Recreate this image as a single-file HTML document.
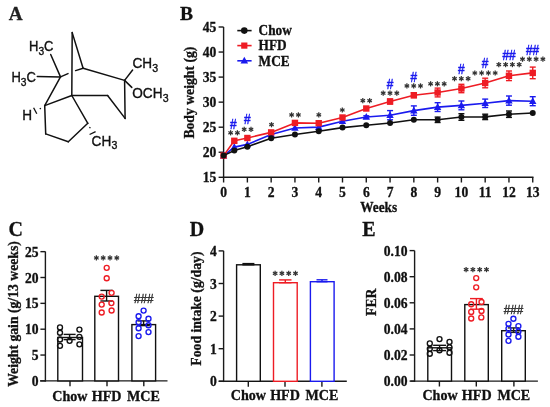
<!DOCTYPE html><html><head><meta charset="utf-8"><style>html,body{margin:0;padding:0;background:#fff;}svg{display:block;will-change:transform;}</style></head><body>
<svg width="550" height="407" viewBox="0 0 550 407">
<rect width="550" height="407" fill="#fff"/>
<text transform="translate(8.70,19.70) scale(1,1.0)" font-family='"Liberation Serif", serif' font-size="19.2" font-weight="bold" fill="#222" stroke="#222" stroke-width="0.3" text-anchor="start" >A</text>
<text transform="translate(180.10,19.70) scale(1,1.0)" font-family='"Liberation Serif", serif' font-size="19.5" font-weight="bold" fill="#111" stroke="#111" stroke-width="0.3" text-anchor="start" >B</text>
<text transform="translate(8.60,235.90) scale(1,1.0)" font-family='"Liberation Serif", serif' font-size="20.0" font-weight="bold" fill="#111" stroke="#111" stroke-width="0.3" text-anchor="start" >C</text>
<text transform="translate(189.80,235.80) scale(1,1.0)" font-family='"Liberation Serif", serif' font-size="20.0" font-weight="bold" fill="#111" stroke="#111" stroke-width="0.3" text-anchor="start" >D</text>
<text transform="translate(362.30,235.70) scale(1,1.0)" font-family='"Liberation Serif", serif' font-size="20.0" font-weight="bold" fill="#111" stroke="#111" stroke-width="0.3" text-anchor="start" >E</text>
<line x1="50.7" y1="54.5" x2="60.5" y2="76.9" stroke="#111" stroke-width="1.5" stroke-linecap="round"/>
<line x1="37.3" y1="76.6" x2="60.5" y2="76.9" stroke="#111" stroke-width="1.5" stroke-linecap="round"/>
<line x1="60.5" y1="76.9" x2="44.7" y2="105.6" stroke="#111" stroke-width="1.5" stroke-linecap="round"/>
<line x1="60.5" y1="76.9" x2="68.0" y2="73.6" stroke="#111" stroke-width="1.5" stroke-linecap="round"/>
<line x1="75.6" y1="70.6" x2="83.1" y2="68.3" stroke="#111" stroke-width="1.5" stroke-linecap="round"/>
<line x1="72.2" y1="32.6" x2="83.1" y2="68.3" stroke="#111" stroke-width="1.5" stroke-linecap="round"/>
<line x1="72.2" y1="32.6" x2="71.8" y2="95.5" stroke="#111" stroke-width="1.5" stroke-linecap="round"/>
<line x1="83.1" y1="68.3" x2="124.6" y2="80.4" stroke="#111" stroke-width="1.5" stroke-linecap="round"/>
<line x1="124.6" y1="80.4" x2="132.6" y2="70.0" stroke="#111" stroke-width="1.5" stroke-linecap="round"/>
<line x1="124.6" y1="80.4" x2="131.8" y2="87.4" stroke="#111" stroke-width="1.5" stroke-linecap="round"/>
<line x1="124.6" y1="80.4" x2="125.1" y2="118.4" stroke="#111" stroke-width="1.5" stroke-linecap="round"/>
<line x1="125.1" y1="118.4" x2="107.6" y2="95.5" stroke="#111" stroke-width="1.5" stroke-linecap="round"/>
<line x1="107.6" y1="95.5" x2="71.8" y2="95.5" stroke="#111" stroke-width="1.5" stroke-linecap="round"/>
<line x1="71.8" y1="95.5" x2="44.7" y2="105.6" stroke="#111" stroke-width="1.5" stroke-linecap="round"/>
<line x1="71.8" y1="95.5" x2="87.8" y2="123.3" stroke="#111" stroke-width="1.5" stroke-linecap="round"/>
<line x1="87.8" y1="123.3" x2="68.3" y2="141.7" stroke="#111" stroke-width="1.5" stroke-linecap="round"/>
<line x1="68.3" y1="141.7" x2="45.7" y2="133.9" stroke="#111" stroke-width="1.5" stroke-linecap="round"/>
<line x1="45.7" y1="133.9" x2="44.7" y2="105.6" stroke="#111" stroke-width="1.5" stroke-linecap="round"/>
<line x1="33.60" y1="107.80" x2="36.80" y2="113.80" stroke="#111" stroke-width="1.35" />
<line x1="40.00" y1="108.00" x2="40.70" y2="109.10" stroke="#111" stroke-width="1.35" />
<line x1="89.30" y1="127.30" x2="90.50" y2="127.80" stroke="#111" stroke-width="1.35" />
<line x1="89.60" y1="134.50" x2="95.60" y2="131.70" stroke="#111" stroke-width="1.35" />
<text transform="translate(29.0,51.0) scale(1,1.1)" font-family='"Liberation Sans", sans-serif' font-size="13.0" fill="#111" stroke="#111" stroke-width="0.35">H<tspan font-size="10.2" dx="0" dy="3.3">3</tspan><tspan dy="-3.3">C</tspan></text>
<text transform="translate(11.4,82.0) scale(1,1.1)" font-family='"Liberation Sans", sans-serif' font-size="13.0" fill="#111" stroke="#111" stroke-width="0.35">H<tspan font-size="10.2" dx="0" dy="3.3">3</tspan><tspan dy="-3.3">C</tspan></text>
<text transform="translate(22.3,119.7) scale(1,1.1)" font-family='"Liberation Sans", sans-serif' font-size="13.6" fill="#111" stroke="#111" stroke-width="0.35">H</text>
<text transform="translate(132.4,67.9) scale(1,1.1)" font-family='"Liberation Sans", sans-serif' font-size="13.6" fill="#111" stroke="#111" stroke-width="0.35">CH<tspan font-size="10.6" dx="0.3" dy="3.3">3</tspan></text>
<text transform="translate(132.3,98.4) scale(1,1.1)" font-family='"Liberation Sans", sans-serif' font-size="13.6" fill="#111" stroke="#111" stroke-width="0.35">OCH<tspan font-size="10.6" dx="0.3" dy="3.3">3</tspan></text>
<text transform="translate(91.6,145.6) scale(1,1.1)" font-family='"Liberation Sans", sans-serif' font-size="13.6" fill="#111" stroke="#111" stroke-width="0.35">CH<tspan font-size="10.6" dx="0.3" dy="3.3">3</tspan></text>
<line x1="223.60" y1="27.00" x2="223.60" y2="178.05" stroke="#1a1a1a" stroke-width="1.4" />
<line x1="222.85" y1="177.30" x2="533.49" y2="177.30" stroke="#1a1a1a" stroke-width="1.4" />
<line x1="218.60" y1="177.30" x2="223.60" y2="177.30" stroke="#1a1a1a" stroke-width="1.4" />
<text transform="translate(216.30,182.30) scale(1,1.03)" font-family='"Liberation Serif", serif' font-size="13.6" font-weight="bold" fill="#111" stroke="#111" stroke-width="0.3" text-anchor="end" >15</text>
<line x1="218.60" y1="152.25" x2="223.60" y2="152.25" stroke="#1a1a1a" stroke-width="1.4" />
<text transform="translate(216.30,157.25) scale(1,1.03)" font-family='"Liberation Serif", serif' font-size="13.6" font-weight="bold" fill="#111" stroke="#111" stroke-width="0.3" text-anchor="end" >20</text>
<line x1="218.60" y1="127.20" x2="223.60" y2="127.20" stroke="#1a1a1a" stroke-width="1.4" />
<text transform="translate(216.30,132.20) scale(1,1.03)" font-family='"Liberation Serif", serif' font-size="13.6" font-weight="bold" fill="#111" stroke="#111" stroke-width="0.3" text-anchor="end" >25</text>
<line x1="218.60" y1="102.15" x2="223.60" y2="102.15" stroke="#1a1a1a" stroke-width="1.4" />
<text transform="translate(216.30,107.15) scale(1,1.03)" font-family='"Liberation Serif", serif' font-size="13.6" font-weight="bold" fill="#111" stroke="#111" stroke-width="0.3" text-anchor="end" >30</text>
<line x1="218.60" y1="77.10" x2="223.60" y2="77.10" stroke="#1a1a1a" stroke-width="1.4" />
<text transform="translate(216.30,82.10) scale(1,1.03)" font-family='"Liberation Serif", serif' font-size="13.6" font-weight="bold" fill="#111" stroke="#111" stroke-width="0.3" text-anchor="end" >35</text>
<line x1="218.60" y1="52.05" x2="223.60" y2="52.05" stroke="#1a1a1a" stroke-width="1.4" />
<text transform="translate(216.30,57.05) scale(1,1.03)" font-family='"Liberation Serif", serif' font-size="13.6" font-weight="bold" fill="#111" stroke="#111" stroke-width="0.3" text-anchor="end" >40</text>
<line x1="218.60" y1="27.00" x2="223.60" y2="27.00" stroke="#1a1a1a" stroke-width="1.4" />
<text transform="translate(216.30,32.00) scale(1,1.03)" font-family='"Liberation Serif", serif' font-size="13.6" font-weight="bold" fill="#111" stroke="#111" stroke-width="0.3" text-anchor="end" >45</text>
<line x1="223.60" y1="177.30" x2="223.60" y2="182.50" stroke="#1a1a1a" stroke-width="1.4" />
<text transform="translate(223.60,197.20) scale(1,1.03)" font-family='"Liberation Serif", serif' font-size="13.6" font-weight="bold" fill="#111" stroke="#111" stroke-width="0.3" text-anchor="middle" >0</text>
<line x1="247.38" y1="177.30" x2="247.38" y2="182.50" stroke="#1a1a1a" stroke-width="1.4" />
<text transform="translate(247.38,197.20) scale(1,1.03)" font-family='"Liberation Serif", serif' font-size="13.6" font-weight="bold" fill="#111" stroke="#111" stroke-width="0.3" text-anchor="middle" >1</text>
<line x1="271.16" y1="177.30" x2="271.16" y2="182.50" stroke="#1a1a1a" stroke-width="1.4" />
<text transform="translate(271.16,197.20) scale(1,1.03)" font-family='"Liberation Serif", serif' font-size="13.6" font-weight="bold" fill="#111" stroke="#111" stroke-width="0.3" text-anchor="middle" >2</text>
<line x1="294.94" y1="177.30" x2="294.94" y2="182.50" stroke="#1a1a1a" stroke-width="1.4" />
<text transform="translate(294.94,197.20) scale(1,1.03)" font-family='"Liberation Serif", serif' font-size="13.6" font-weight="bold" fill="#111" stroke="#111" stroke-width="0.3" text-anchor="middle" >3</text>
<line x1="318.72" y1="177.30" x2="318.72" y2="182.50" stroke="#1a1a1a" stroke-width="1.4" />
<text transform="translate(318.72,197.20) scale(1,1.03)" font-family='"Liberation Serif", serif' font-size="13.6" font-weight="bold" fill="#111" stroke="#111" stroke-width="0.3" text-anchor="middle" >4</text>
<line x1="342.50" y1="177.30" x2="342.50" y2="182.50" stroke="#1a1a1a" stroke-width="1.4" />
<text transform="translate(342.50,197.20) scale(1,1.03)" font-family='"Liberation Serif", serif' font-size="13.6" font-weight="bold" fill="#111" stroke="#111" stroke-width="0.3" text-anchor="middle" >5</text>
<line x1="366.28" y1="177.30" x2="366.28" y2="182.50" stroke="#1a1a1a" stroke-width="1.4" />
<text transform="translate(366.28,197.20) scale(1,1.03)" font-family='"Liberation Serif", serif' font-size="13.6" font-weight="bold" fill="#111" stroke="#111" stroke-width="0.3" text-anchor="middle" >6</text>
<line x1="390.06" y1="177.30" x2="390.06" y2="182.50" stroke="#1a1a1a" stroke-width="1.4" />
<text transform="translate(390.06,197.20) scale(1,1.03)" font-family='"Liberation Serif", serif' font-size="13.6" font-weight="bold" fill="#111" stroke="#111" stroke-width="0.3" text-anchor="middle" >7</text>
<line x1="413.84" y1="177.30" x2="413.84" y2="182.50" stroke="#1a1a1a" stroke-width="1.4" />
<text transform="translate(413.84,197.20) scale(1,1.03)" font-family='"Liberation Serif", serif' font-size="13.6" font-weight="bold" fill="#111" stroke="#111" stroke-width="0.3" text-anchor="middle" >8</text>
<line x1="437.62" y1="177.30" x2="437.62" y2="182.50" stroke="#1a1a1a" stroke-width="1.4" />
<text transform="translate(437.62,197.20) scale(1,1.03)" font-family='"Liberation Serif", serif' font-size="13.6" font-weight="bold" fill="#111" stroke="#111" stroke-width="0.3" text-anchor="middle" >9</text>
<line x1="461.40" y1="177.30" x2="461.40" y2="182.50" stroke="#1a1a1a" stroke-width="1.4" />
<text transform="translate(461.40,197.20) scale(1,1.03)" font-family='"Liberation Serif", serif' font-size="13.6" font-weight="bold" fill="#111" stroke="#111" stroke-width="0.3" text-anchor="middle" >10</text>
<line x1="485.18" y1="177.30" x2="485.18" y2="182.50" stroke="#1a1a1a" stroke-width="1.4" />
<text transform="translate(485.18,197.20) scale(1,1.03)" font-family='"Liberation Serif", serif' font-size="13.6" font-weight="bold" fill="#111" stroke="#111" stroke-width="0.3" text-anchor="middle" >11</text>
<line x1="508.96" y1="177.30" x2="508.96" y2="182.50" stroke="#1a1a1a" stroke-width="1.4" />
<text transform="translate(508.96,197.20) scale(1,1.03)" font-family='"Liberation Serif", serif' font-size="13.6" font-weight="bold" fill="#111" stroke="#111" stroke-width="0.3" text-anchor="middle" >12</text>
<line x1="532.74" y1="177.30" x2="532.74" y2="182.50" stroke="#1a1a1a" stroke-width="1.4" />
<text transform="translate(532.74,197.20) scale(1,1.03)" font-family='"Liberation Serif", serif' font-size="13.6" font-weight="bold" fill="#111" stroke="#111" stroke-width="0.3" text-anchor="middle" >13</text>
<text transform="translate(378.70,212.20) scale(1,1.07)" font-family='"Liberation Serif", serif' font-size="13.3" font-weight="bold" fill="#111" stroke="#111" stroke-width="0.3" text-anchor="middle" >Weeks</text>
<text transform="translate(194.00,92.60) rotate(-90) scale(1,1.02)" x="0" y="0" font-family='"Liberation Serif", serif' font-size="13.7" font-weight="bold" fill="#111" stroke="#111" stroke-width="0.3" text-anchor="middle">Body weight (g)</text>
<polyline points="223.60,155.60 234.30,147.10 247.38,144.40 271.16,134.40 294.94,128.00 318.72,127.10 342.50,121.20 366.28,117.00 390.06,115.20 413.84,110.60 437.62,107.10 461.40,105.40 485.18,103.30 508.96,100.60 532.74,101.20" fill="none" stroke="#1a1aee" stroke-width="1.6" stroke-linejoin="round"/>
<line x1="366.28" y1="115.80" x2="366.28" y2="118.20" stroke="#1a1aee" stroke-width="1.4" />
<line x1="363.28" y1="115.80" x2="369.28" y2="115.80" stroke="#1a1aee" stroke-width="1.4" />
<line x1="363.28" y1="118.20" x2="369.28" y2="118.20" stroke="#1a1aee" stroke-width="1.4" />
<line x1="390.06" y1="110.60" x2="390.06" y2="119.80" stroke="#1a1aee" stroke-width="1.4" />
<line x1="387.06" y1="110.60" x2="393.06" y2="110.60" stroke="#1a1aee" stroke-width="1.4" />
<line x1="387.06" y1="119.80" x2="393.06" y2="119.80" stroke="#1a1aee" stroke-width="1.4" />
<line x1="413.84" y1="105.90" x2="413.84" y2="115.30" stroke="#1a1aee" stroke-width="1.4" />
<line x1="410.84" y1="105.90" x2="416.84" y2="105.90" stroke="#1a1aee" stroke-width="1.4" />
<line x1="410.84" y1="115.30" x2="416.84" y2="115.30" stroke="#1a1aee" stroke-width="1.4" />
<line x1="437.62" y1="102.70" x2="437.62" y2="111.50" stroke="#1a1aee" stroke-width="1.4" />
<line x1="434.62" y1="102.70" x2="440.62" y2="102.70" stroke="#1a1aee" stroke-width="1.4" />
<line x1="434.62" y1="111.50" x2="440.62" y2="111.50" stroke="#1a1aee" stroke-width="1.4" />
<line x1="461.40" y1="101.00" x2="461.40" y2="109.80" stroke="#1a1aee" stroke-width="1.4" />
<line x1="458.40" y1="101.00" x2="464.40" y2="101.00" stroke="#1a1aee" stroke-width="1.4" />
<line x1="458.40" y1="109.80" x2="464.40" y2="109.80" stroke="#1a1aee" stroke-width="1.4" />
<line x1="485.18" y1="99.10" x2="485.18" y2="107.50" stroke="#1a1aee" stroke-width="1.4" />
<line x1="482.18" y1="99.10" x2="488.18" y2="99.10" stroke="#1a1aee" stroke-width="1.4" />
<line x1="482.18" y1="107.50" x2="488.18" y2="107.50" stroke="#1a1aee" stroke-width="1.4" />
<line x1="508.96" y1="96.00" x2="508.96" y2="105.20" stroke="#1a1aee" stroke-width="1.4" />
<line x1="505.96" y1="96.00" x2="511.96" y2="96.00" stroke="#1a1aee" stroke-width="1.4" />
<line x1="505.96" y1="105.20" x2="511.96" y2="105.20" stroke="#1a1aee" stroke-width="1.4" />
<line x1="532.74" y1="96.70" x2="532.74" y2="105.70" stroke="#1a1aee" stroke-width="1.4" />
<line x1="529.74" y1="96.70" x2="535.74" y2="96.70" stroke="#1a1aee" stroke-width="1.4" />
<line x1="529.74" y1="105.70" x2="535.74" y2="105.70" stroke="#1a1aee" stroke-width="1.4" />
<polygon points="223.60,151.60 227.30,158.40 219.90,158.40" fill="#1a1aee"/>
<polygon points="234.30,143.10 238.00,149.90 230.60,149.90" fill="#1a1aee"/>
<polygon points="247.38,140.40 251.08,147.20 243.68,147.20" fill="#1a1aee"/>
<polygon points="271.16,130.40 274.86,137.20 267.46,137.20" fill="#1a1aee"/>
<polygon points="294.94,124.00 298.64,130.80 291.24,130.80" fill="#1a1aee"/>
<polygon points="318.72,123.10 322.42,129.90 315.02,129.90" fill="#1a1aee"/>
<polygon points="342.50,117.20 346.20,124.00 338.80,124.00" fill="#1a1aee"/>
<polygon points="366.28,113.00 369.98,119.80 362.58,119.80" fill="#1a1aee"/>
<polygon points="390.06,111.20 393.76,118.00 386.36,118.00" fill="#1a1aee"/>
<polygon points="413.84,106.60 417.54,113.40 410.14,113.40" fill="#1a1aee"/>
<polygon points="437.62,103.10 441.32,109.90 433.92,109.90" fill="#1a1aee"/>
<polygon points="461.40,101.40 465.10,108.20 457.70,108.20" fill="#1a1aee"/>
<polygon points="485.18,99.30 488.88,106.10 481.48,106.10" fill="#1a1aee"/>
<polygon points="508.96,96.60 512.66,103.40 505.26,103.40" fill="#1a1aee"/>
<polygon points="532.74,97.20 536.44,104.00 529.04,104.00" fill="#1a1aee"/>
<polyline points="223.60,155.60 234.30,140.80 247.38,138.00 271.16,132.40 294.94,122.90 318.72,123.20 342.50,117.50 366.28,108.50 390.06,101.50 413.84,95.20 437.62,92.50 461.40,88.50 485.18,83.00 508.96,75.80 532.74,72.90" fill="none" stroke="#ee1c24" stroke-width="1.6" stroke-linejoin="round"/>
<line x1="390.06" y1="99.00" x2="390.06" y2="104.00" stroke="#ee1c24" stroke-width="1.4" />
<line x1="387.06" y1="99.00" x2="393.06" y2="99.00" stroke="#ee1c24" stroke-width="1.4" />
<line x1="387.06" y1="104.00" x2="393.06" y2="104.00" stroke="#ee1c24" stroke-width="1.4" />
<line x1="413.84" y1="92.70" x2="413.84" y2="97.70" stroke="#ee1c24" stroke-width="1.4" />
<line x1="410.84" y1="92.70" x2="416.84" y2="92.70" stroke="#ee1c24" stroke-width="1.4" />
<line x1="410.84" y1="97.70" x2="416.84" y2="97.70" stroke="#ee1c24" stroke-width="1.4" />
<line x1="437.62" y1="88.10" x2="437.62" y2="96.90" stroke="#ee1c24" stroke-width="1.4" />
<line x1="434.62" y1="88.10" x2="440.62" y2="88.10" stroke="#ee1c24" stroke-width="1.4" />
<line x1="434.62" y1="96.90" x2="440.62" y2="96.90" stroke="#ee1c24" stroke-width="1.4" />
<line x1="461.40" y1="84.30" x2="461.40" y2="92.70" stroke="#ee1c24" stroke-width="1.4" />
<line x1="458.40" y1="84.30" x2="464.40" y2="84.30" stroke="#ee1c24" stroke-width="1.4" />
<line x1="458.40" y1="92.70" x2="464.40" y2="92.70" stroke="#ee1c24" stroke-width="1.4" />
<line x1="485.18" y1="78.20" x2="485.18" y2="87.80" stroke="#ee1c24" stroke-width="1.4" />
<line x1="482.18" y1="78.20" x2="488.18" y2="78.20" stroke="#ee1c24" stroke-width="1.4" />
<line x1="482.18" y1="87.80" x2="488.18" y2="87.80" stroke="#ee1c24" stroke-width="1.4" />
<line x1="508.96" y1="71.00" x2="508.96" y2="80.60" stroke="#ee1c24" stroke-width="1.4" />
<line x1="505.96" y1="71.00" x2="511.96" y2="71.00" stroke="#ee1c24" stroke-width="1.4" />
<line x1="505.96" y1="80.60" x2="511.96" y2="80.60" stroke="#ee1c24" stroke-width="1.4" />
<line x1="532.74" y1="67.10" x2="532.74" y2="78.70" stroke="#ee1c24" stroke-width="1.4" />
<line x1="529.74" y1="67.10" x2="535.74" y2="67.10" stroke="#ee1c24" stroke-width="1.4" />
<line x1="529.74" y1="78.70" x2="535.74" y2="78.70" stroke="#ee1c24" stroke-width="1.4" />
<rect x="220.40" y="152.40" width="6.4" height="6.4" fill="#ee1c24"/>
<rect x="231.10" y="137.60" width="6.4" height="6.4" fill="#ee1c24"/>
<rect x="244.18" y="134.80" width="6.4" height="6.4" fill="#ee1c24"/>
<rect x="267.96" y="129.20" width="6.4" height="6.4" fill="#ee1c24"/>
<rect x="291.74" y="119.70" width="6.4" height="6.4" fill="#ee1c24"/>
<rect x="315.52" y="120.00" width="6.4" height="6.4" fill="#ee1c24"/>
<rect x="339.30" y="114.30" width="6.4" height="6.4" fill="#ee1c24"/>
<rect x="363.08" y="105.30" width="6.4" height="6.4" fill="#ee1c24"/>
<rect x="386.86" y="98.30" width="6.4" height="6.4" fill="#ee1c24"/>
<rect x="410.64" y="92.00" width="6.4" height="6.4" fill="#ee1c24"/>
<rect x="434.42" y="89.30" width="6.4" height="6.4" fill="#ee1c24"/>
<rect x="458.20" y="85.30" width="6.4" height="6.4" fill="#ee1c24"/>
<rect x="481.98" y="79.80" width="6.4" height="6.4" fill="#ee1c24"/>
<rect x="505.76" y="72.60" width="6.4" height="6.4" fill="#ee1c24"/>
<rect x="529.54" y="69.70" width="6.4" height="6.4" fill="#ee1c24"/>
<polyline points="223.60,155.60 234.30,150.50 247.38,146.80 271.16,138.20 294.94,134.50 318.72,131.20 342.50,127.60 366.28,125.20 390.06,123.00 413.84,119.70 437.62,119.80 461.40,117.00 485.18,116.90 508.96,114.20 532.74,113.00" fill="none" stroke="#111" stroke-width="1.6" stroke-linejoin="round"/>
<line x1="437.62" y1="117.10" x2="437.62" y2="122.50" stroke="#111" stroke-width="1.4" />
<line x1="434.62" y1="117.10" x2="440.62" y2="117.10" stroke="#111" stroke-width="1.4" />
<line x1="434.62" y1="122.50" x2="440.62" y2="122.50" stroke="#111" stroke-width="1.4" />
<line x1="461.40" y1="113.70" x2="461.40" y2="120.30" stroke="#111" stroke-width="1.4" />
<line x1="458.40" y1="113.70" x2="464.40" y2="113.70" stroke="#111" stroke-width="1.4" />
<line x1="458.40" y1="120.30" x2="464.40" y2="120.30" stroke="#111" stroke-width="1.4" />
<line x1="485.18" y1="114.20" x2="485.18" y2="119.60" stroke="#111" stroke-width="1.4" />
<line x1="482.18" y1="114.20" x2="488.18" y2="114.20" stroke="#111" stroke-width="1.4" />
<line x1="482.18" y1="119.60" x2="488.18" y2="119.60" stroke="#111" stroke-width="1.4" />
<line x1="508.96" y1="111.00" x2="508.96" y2="117.40" stroke="#111" stroke-width="1.4" />
<line x1="505.96" y1="111.00" x2="511.96" y2="111.00" stroke="#111" stroke-width="1.4" />
<line x1="505.96" y1="117.40" x2="511.96" y2="117.40" stroke="#111" stroke-width="1.4" />
<circle cx="223.60" cy="155.60" r="3.0" fill="#111"/>
<circle cx="234.30" cy="150.50" r="3.0" fill="#111"/>
<circle cx="247.38" cy="146.80" r="3.0" fill="#111"/>
<circle cx="271.16" cy="138.20" r="3.0" fill="#111"/>
<circle cx="294.94" cy="134.50" r="3.0" fill="#111"/>
<circle cx="318.72" cy="131.20" r="3.0" fill="#111"/>
<circle cx="342.50" cy="127.60" r="3.0" fill="#111"/>
<circle cx="366.28" cy="125.20" r="3.0" fill="#111"/>
<circle cx="390.06" cy="123.00" r="3.0" fill="#111"/>
<circle cx="413.84" cy="119.70" r="3.0" fill="#111"/>
<circle cx="437.62" cy="119.80" r="3.0" fill="#111"/>
<circle cx="461.40" cy="117.00" r="3.0" fill="#111"/>
<circle cx="485.18" cy="116.90" r="3.0" fill="#111"/>
<circle cx="508.96" cy="114.20" r="3.0" fill="#111"/>
<circle cx="532.74" cy="113.00" r="3.0" fill="#111"/>
<line x1="237.30" y1="30.60" x2="251.60" y2="30.60" stroke="#111" stroke-width="1.6" />
<circle cx="244.3" cy="30.6" r="3.3" fill="#111"/>
<text transform="translate(258.60,34.80) scale(1,1.07)" font-family='"Liberation Serif", serif' font-size="13.3" font-weight="bold" fill="#111" stroke="#111" stroke-width="0.3" text-anchor="start" >Chow</text>
<line x1="237.30" y1="45.60" x2="251.60" y2="45.60" stroke="#ee1c24" stroke-width="1.6" />
<rect x="241.20000000000002" y="42.5" width="6.2" height="6.2" fill="#ee1c24"/>
<text transform="translate(258.60,50.40) scale(1,1.07)" font-family='"Liberation Serif", serif' font-size="13.3" font-weight="bold" fill="#111" stroke="#111" stroke-width="0.3" text-anchor="start" >HFD</text>
<line x1="237.30" y1="60.80" x2="251.60" y2="60.80" stroke="#1a1aee" stroke-width="1.6" />
<polygon points="244.3,56.8 248.10000000000002,63.599999999999994 240.5,63.599999999999994" fill="#1a1aee"/>
<text transform="translate(258.60,65.80) scale(1,1.07)" font-family='"Liberation Serif", serif' font-size="13.3" font-weight="bold" fill="#111" stroke="#111" stroke-width="0.3" text-anchor="start" >MCE</text>
<line x1="230.60" y1="130.20" x2="230.60" y2="135.40" stroke="#333333" stroke-width="1.25" />
<line x1="228.35" y1="131.50" x2="232.85" y2="134.10" stroke="#333333" stroke-width="1.25" />
<line x1="232.85" y1="131.50" x2="228.35" y2="134.10" stroke="#333333" stroke-width="1.25" />
<line x1="237.40" y1="130.20" x2="237.40" y2="135.40" stroke="#333333" stroke-width="1.25" />
<line x1="235.15" y1="131.50" x2="239.65" y2="134.10" stroke="#333333" stroke-width="1.25" />
<line x1="239.65" y1="131.50" x2="235.15" y2="134.10" stroke="#333333" stroke-width="1.25" />
<line x1="244.20" y1="126.70" x2="244.20" y2="131.90" stroke="#333333" stroke-width="1.25" />
<line x1="241.95" y1="128.00" x2="246.45" y2="130.60" stroke="#333333" stroke-width="1.25" />
<line x1="246.45" y1="128.00" x2="241.95" y2="130.60" stroke="#333333" stroke-width="1.25" />
<line x1="251.00" y1="126.70" x2="251.00" y2="131.90" stroke="#333333" stroke-width="1.25" />
<line x1="248.75" y1="128.00" x2="253.25" y2="130.60" stroke="#333333" stroke-width="1.25" />
<line x1="253.25" y1="128.00" x2="248.75" y2="130.60" stroke="#333333" stroke-width="1.25" />
<line x1="271.50" y1="122.10" x2="271.50" y2="127.30" stroke="#333333" stroke-width="1.25" />
<line x1="269.25" y1="123.40" x2="273.75" y2="126.00" stroke="#333333" stroke-width="1.25" />
<line x1="273.75" y1="123.40" x2="269.25" y2="126.00" stroke="#333333" stroke-width="1.25" />
<line x1="291.60" y1="112.30" x2="291.60" y2="117.50" stroke="#333333" stroke-width="1.25" />
<line x1="289.35" y1="113.60" x2="293.85" y2="116.20" stroke="#333333" stroke-width="1.25" />
<line x1="293.85" y1="113.60" x2="289.35" y2="116.20" stroke="#333333" stroke-width="1.25" />
<line x1="298.40" y1="112.30" x2="298.40" y2="117.50" stroke="#333333" stroke-width="1.25" />
<line x1="296.15" y1="113.60" x2="300.65" y2="116.20" stroke="#333333" stroke-width="1.25" />
<line x1="300.65" y1="113.60" x2="296.15" y2="116.20" stroke="#333333" stroke-width="1.25" />
<line x1="318.80" y1="112.20" x2="318.80" y2="117.40" stroke="#333333" stroke-width="1.25" />
<line x1="316.55" y1="113.50" x2="321.05" y2="116.10" stroke="#333333" stroke-width="1.25" />
<line x1="321.05" y1="113.50" x2="316.55" y2="116.10" stroke="#333333" stroke-width="1.25" />
<line x1="342.30" y1="107.40" x2="342.30" y2="112.60" stroke="#333333" stroke-width="1.25" />
<line x1="340.05" y1="108.70" x2="344.55" y2="111.30" stroke="#333333" stroke-width="1.25" />
<line x1="344.55" y1="108.70" x2="340.05" y2="111.30" stroke="#333333" stroke-width="1.25" />
<line x1="362.80" y1="98.10" x2="362.80" y2="103.30" stroke="#333333" stroke-width="1.25" />
<line x1="360.55" y1="99.40" x2="365.05" y2="102.00" stroke="#333333" stroke-width="1.25" />
<line x1="365.05" y1="99.40" x2="360.55" y2="102.00" stroke="#333333" stroke-width="1.25" />
<line x1="369.60" y1="98.10" x2="369.60" y2="103.30" stroke="#333333" stroke-width="1.25" />
<line x1="367.35" y1="99.40" x2="371.85" y2="102.00" stroke="#333333" stroke-width="1.25" />
<line x1="371.85" y1="99.40" x2="367.35" y2="102.00" stroke="#333333" stroke-width="1.25" />
<line x1="383.20" y1="90.60" x2="383.20" y2="95.80" stroke="#333333" stroke-width="1.25" />
<line x1="380.95" y1="91.90" x2="385.45" y2="94.50" stroke="#333333" stroke-width="1.25" />
<line x1="385.45" y1="91.90" x2="380.95" y2="94.50" stroke="#333333" stroke-width="1.25" />
<line x1="390.00" y1="90.60" x2="390.00" y2="95.80" stroke="#333333" stroke-width="1.25" />
<line x1="387.75" y1="91.90" x2="392.25" y2="94.50" stroke="#333333" stroke-width="1.25" />
<line x1="392.25" y1="91.90" x2="387.75" y2="94.50" stroke="#333333" stroke-width="1.25" />
<line x1="396.80" y1="90.60" x2="396.80" y2="95.80" stroke="#333333" stroke-width="1.25" />
<line x1="394.55" y1="91.90" x2="399.05" y2="94.50" stroke="#333333" stroke-width="1.25" />
<line x1="399.05" y1="91.90" x2="394.55" y2="94.50" stroke="#333333" stroke-width="1.25" />
<line x1="406.90" y1="83.30" x2="406.90" y2="88.50" stroke="#333333" stroke-width="1.25" />
<line x1="404.65" y1="84.60" x2="409.15" y2="87.20" stroke="#333333" stroke-width="1.25" />
<line x1="409.15" y1="84.60" x2="404.65" y2="87.20" stroke="#333333" stroke-width="1.25" />
<line x1="413.70" y1="83.30" x2="413.70" y2="88.50" stroke="#333333" stroke-width="1.25" />
<line x1="411.45" y1="84.60" x2="415.95" y2="87.20" stroke="#333333" stroke-width="1.25" />
<line x1="415.95" y1="84.60" x2="411.45" y2="87.20" stroke="#333333" stroke-width="1.25" />
<line x1="420.50" y1="83.30" x2="420.50" y2="88.50" stroke="#333333" stroke-width="1.25" />
<line x1="418.25" y1="84.60" x2="422.75" y2="87.20" stroke="#333333" stroke-width="1.25" />
<line x1="422.75" y1="84.60" x2="418.25" y2="87.20" stroke="#333333" stroke-width="1.25" />
<line x1="430.60" y1="81.20" x2="430.60" y2="86.40" stroke="#333333" stroke-width="1.25" />
<line x1="428.35" y1="82.50" x2="432.85" y2="85.10" stroke="#333333" stroke-width="1.25" />
<line x1="432.85" y1="82.50" x2="428.35" y2="85.10" stroke="#333333" stroke-width="1.25" />
<line x1="437.40" y1="81.20" x2="437.40" y2="86.40" stroke="#333333" stroke-width="1.25" />
<line x1="435.15" y1="82.50" x2="439.65" y2="85.10" stroke="#333333" stroke-width="1.25" />
<line x1="439.65" y1="82.50" x2="435.15" y2="85.10" stroke="#333333" stroke-width="1.25" />
<line x1="444.20" y1="81.20" x2="444.20" y2="86.40" stroke="#333333" stroke-width="1.25" />
<line x1="441.95" y1="82.50" x2="446.45" y2="85.10" stroke="#333333" stroke-width="1.25" />
<line x1="446.45" y1="82.50" x2="441.95" y2="85.10" stroke="#333333" stroke-width="1.25" />
<line x1="454.50" y1="76.10" x2="454.50" y2="81.30" stroke="#333333" stroke-width="1.25" />
<line x1="452.25" y1="77.40" x2="456.75" y2="80.00" stroke="#333333" stroke-width="1.25" />
<line x1="456.75" y1="77.40" x2="452.25" y2="80.00" stroke="#333333" stroke-width="1.25" />
<line x1="461.30" y1="76.10" x2="461.30" y2="81.30" stroke="#333333" stroke-width="1.25" />
<line x1="459.05" y1="77.40" x2="463.55" y2="80.00" stroke="#333333" stroke-width="1.25" />
<line x1="463.55" y1="77.40" x2="459.05" y2="80.00" stroke="#333333" stroke-width="1.25" />
<line x1="468.10" y1="76.10" x2="468.10" y2="81.30" stroke="#333333" stroke-width="1.25" />
<line x1="465.85" y1="77.40" x2="470.35" y2="80.00" stroke="#333333" stroke-width="1.25" />
<line x1="470.35" y1="77.40" x2="465.85" y2="80.00" stroke="#333333" stroke-width="1.25" />
<line x1="474.80" y1="70.40" x2="474.80" y2="75.60" stroke="#333333" stroke-width="1.25" />
<line x1="472.55" y1="71.70" x2="477.05" y2="74.30" stroke="#333333" stroke-width="1.25" />
<line x1="477.05" y1="71.70" x2="472.55" y2="74.30" stroke="#333333" stroke-width="1.25" />
<line x1="481.60" y1="70.40" x2="481.60" y2="75.60" stroke="#333333" stroke-width="1.25" />
<line x1="479.35" y1="71.70" x2="483.85" y2="74.30" stroke="#333333" stroke-width="1.25" />
<line x1="483.85" y1="71.70" x2="479.35" y2="74.30" stroke="#333333" stroke-width="1.25" />
<line x1="488.40" y1="70.40" x2="488.40" y2="75.60" stroke="#333333" stroke-width="1.25" />
<line x1="486.15" y1="71.70" x2="490.65" y2="74.30" stroke="#333333" stroke-width="1.25" />
<line x1="490.65" y1="71.70" x2="486.15" y2="74.30" stroke="#333333" stroke-width="1.25" />
<line x1="495.20" y1="70.40" x2="495.20" y2="75.60" stroke="#333333" stroke-width="1.25" />
<line x1="492.95" y1="71.70" x2="497.45" y2="74.30" stroke="#333333" stroke-width="1.25" />
<line x1="497.45" y1="71.70" x2="492.95" y2="74.30" stroke="#333333" stroke-width="1.25" />
<line x1="498.80" y1="62.00" x2="498.80" y2="67.20" stroke="#333333" stroke-width="1.25" />
<line x1="496.55" y1="63.30" x2="501.05" y2="65.90" stroke="#333333" stroke-width="1.25" />
<line x1="501.05" y1="63.30" x2="496.55" y2="65.90" stroke="#333333" stroke-width="1.25" />
<line x1="505.60" y1="62.00" x2="505.60" y2="67.20" stroke="#333333" stroke-width="1.25" />
<line x1="503.35" y1="63.30" x2="507.85" y2="65.90" stroke="#333333" stroke-width="1.25" />
<line x1="507.85" y1="63.30" x2="503.35" y2="65.90" stroke="#333333" stroke-width="1.25" />
<line x1="512.40" y1="62.00" x2="512.40" y2="67.20" stroke="#333333" stroke-width="1.25" />
<line x1="510.15" y1="63.30" x2="514.65" y2="65.90" stroke="#333333" stroke-width="1.25" />
<line x1="514.65" y1="63.30" x2="510.15" y2="65.90" stroke="#333333" stroke-width="1.25" />
<line x1="519.20" y1="62.00" x2="519.20" y2="67.20" stroke="#333333" stroke-width="1.25" />
<line x1="516.95" y1="63.30" x2="521.45" y2="65.90" stroke="#333333" stroke-width="1.25" />
<line x1="521.45" y1="63.30" x2="516.95" y2="65.90" stroke="#333333" stroke-width="1.25" />
<line x1="522.50" y1="56.60" x2="522.50" y2="61.80" stroke="#333333" stroke-width="1.25" />
<line x1="520.25" y1="57.90" x2="524.75" y2="60.50" stroke="#333333" stroke-width="1.25" />
<line x1="524.75" y1="57.90" x2="520.25" y2="60.50" stroke="#333333" stroke-width="1.25" />
<line x1="529.30" y1="56.60" x2="529.30" y2="61.80" stroke="#333333" stroke-width="1.25" />
<line x1="527.05" y1="57.90" x2="531.55" y2="60.50" stroke="#333333" stroke-width="1.25" />
<line x1="531.55" y1="57.90" x2="527.05" y2="60.50" stroke="#333333" stroke-width="1.25" />
<line x1="536.10" y1="56.60" x2="536.10" y2="61.80" stroke="#333333" stroke-width="1.25" />
<line x1="533.85" y1="57.90" x2="538.35" y2="60.50" stroke="#333333" stroke-width="1.25" />
<line x1="538.35" y1="57.90" x2="533.85" y2="60.50" stroke="#333333" stroke-width="1.25" />
<line x1="542.90" y1="56.60" x2="542.90" y2="61.80" stroke="#333333" stroke-width="1.25" />
<line x1="540.65" y1="57.90" x2="545.15" y2="60.50" stroke="#333333" stroke-width="1.25" />
<line x1="545.15" y1="57.90" x2="540.65" y2="60.50" stroke="#333333" stroke-width="1.25" />
<text transform="translate(233.40,128.75) scale(0.9,1.05)" font-family='"Liberation Sans", sans-serif' font-size="13.2" fill="#1a1aee" stroke="#1a1aee" stroke-width="0.45" text-anchor="middle">#</text>
<text transform="translate(247.30,124.15) scale(0.9,1.05)" font-family='"Liberation Sans", sans-serif' font-size="13.2" fill="#1a1aee" stroke="#1a1aee" stroke-width="0.45" text-anchor="middle">#</text>
<text transform="translate(390.00,88.55) scale(0.9,1.05)" font-family='"Liberation Sans", sans-serif' font-size="13.2" fill="#1a1aee" stroke="#1a1aee" stroke-width="0.45" text-anchor="middle">#</text>
<text transform="translate(413.70,82.05) scale(0.9,1.05)" font-family='"Liberation Sans", sans-serif' font-size="13.2" fill="#1a1aee" stroke="#1a1aee" stroke-width="0.45" text-anchor="middle">#</text>
<text transform="translate(461.30,74.05) scale(0.9,1.05)" font-family='"Liberation Sans", sans-serif' font-size="13.2" fill="#1a1aee" stroke="#1a1aee" stroke-width="0.45" text-anchor="middle">#</text>
<text transform="translate(485.00,67.55) scale(0.9,1.05)" font-family='"Liberation Sans", sans-serif' font-size="13.2" fill="#1a1aee" stroke="#1a1aee" stroke-width="0.45" text-anchor="middle">#</text>
<text transform="translate(509.00,60.05) scale(0.9,1.05)" font-family='"Liberation Sans", sans-serif' font-size="13.2" fill="#1a1aee" stroke="#1a1aee" stroke-width="0.45" text-anchor="middle">##</text>
<text transform="translate(532.60,54.75) scale(0.9,1.05)" font-family='"Liberation Sans", sans-serif' font-size="13.2" fill="#1a1aee" stroke="#1a1aee" stroke-width="0.45" text-anchor="middle">##</text>
<line x1="45.40" y1="251.50" x2="45.40" y2="381.65" stroke="#1a1a1a" stroke-width="1.4" />
<line x1="40.00" y1="380.90" x2="167.50" y2="380.90" stroke="#1a1a1a" stroke-width="1.4" />
<line x1="40.40" y1="380.90" x2="45.40" y2="380.90" stroke="#1a1a1a" stroke-width="1.4" />
<text transform="translate(38.50,385.90) scale(1,1.03)" font-family='"Liberation Serif", serif' font-size="13.6" font-weight="bold" fill="#111" stroke="#111" stroke-width="0.3" text-anchor="end" >0</text>
<line x1="40.40" y1="355.05" x2="45.40" y2="355.05" stroke="#1a1a1a" stroke-width="1.4" />
<text transform="translate(38.50,360.05) scale(1,1.03)" font-family='"Liberation Serif", serif' font-size="13.6" font-weight="bold" fill="#111" stroke="#111" stroke-width="0.3" text-anchor="end" >5</text>
<line x1="40.40" y1="329.20" x2="45.40" y2="329.20" stroke="#1a1a1a" stroke-width="1.4" />
<text transform="translate(38.50,334.20) scale(1,1.03)" font-family='"Liberation Serif", serif' font-size="13.6" font-weight="bold" fill="#111" stroke="#111" stroke-width="0.3" text-anchor="end" >10</text>
<line x1="40.40" y1="303.35" x2="45.40" y2="303.35" stroke="#1a1a1a" stroke-width="1.4" />
<text transform="translate(38.50,308.35) scale(1,1.03)" font-family='"Liberation Serif", serif' font-size="13.6" font-weight="bold" fill="#111" stroke="#111" stroke-width="0.3" text-anchor="end" >15</text>
<line x1="40.40" y1="277.50" x2="45.40" y2="277.50" stroke="#1a1a1a" stroke-width="1.4" />
<text transform="translate(38.50,282.50) scale(1,1.03)" font-family='"Liberation Serif", serif' font-size="13.6" font-weight="bold" fill="#111" stroke="#111" stroke-width="0.3" text-anchor="end" >20</text>
<line x1="40.40" y1="251.65" x2="45.40" y2="251.65" stroke="#1a1a1a" stroke-width="1.4" />
<text transform="translate(38.50,256.65) scale(1,1.03)" font-family='"Liberation Serif", serif' font-size="13.6" font-weight="bold" fill="#111" stroke="#111" stroke-width="0.3" text-anchor="end" >25</text>
<line x1="70.00" y1="380.90" x2="70.00" y2="386.30" stroke="#1a1a1a" stroke-width="1.4" />
<line x1="107.00" y1="380.90" x2="107.00" y2="386.30" stroke="#1a1a1a" stroke-width="1.4" />
<line x1="143.80" y1="380.90" x2="143.80" y2="386.30" stroke="#1a1a1a" stroke-width="1.4" />
<rect x="57.80" y="337.50" width="24.70" height="43.40" fill="#fff" stroke="#111" stroke-width="1.4"/>
<rect x="94.80" y="296.30" width="23.70" height="84.60" fill="#fff" stroke="#111" stroke-width="1.4"/>
<rect x="131.90" y="324.60" width="23.70" height="56.30" fill="#fff" stroke="#111" stroke-width="1.4"/>
<line x1="69.60" y1="334.40" x2="69.60" y2="339.60" stroke="#111" stroke-width="1.4" />
<line x1="63.60" y1="334.40" x2="75.60" y2="334.40" stroke="#111" stroke-width="1.4" />
<line x1="63.60" y1="339.60" x2="75.60" y2="339.60" stroke="#111" stroke-width="1.4" />
<line x1="106.60" y1="290.40" x2="106.60" y2="301.00" stroke="#111" stroke-width="1.4" />
<line x1="100.40" y1="290.40" x2="112.80" y2="290.40" stroke="#111" stroke-width="1.4" />
<line x1="100.40" y1="301.00" x2="112.80" y2="301.00" stroke="#111" stroke-width="1.4" />
<line x1="143.60" y1="320.90" x2="143.60" y2="325.60" stroke="#111" stroke-width="1.4" />
<line x1="137.40" y1="320.90" x2="149.80" y2="320.90" stroke="#111" stroke-width="1.4" />
<line x1="137.40" y1="325.60" x2="149.80" y2="325.60" stroke="#111" stroke-width="1.4" />
<circle cx="60" cy="327.4" r="2.5" fill="none" stroke="#111" stroke-width="1.35"/>
<circle cx="60" cy="332.7" r="2.5" fill="none" stroke="#111" stroke-width="1.35"/>
<circle cx="60" cy="339.5" r="2.5" fill="none" stroke="#111" stroke-width="1.35"/>
<circle cx="60" cy="345.8" r="2.5" fill="none" stroke="#111" stroke-width="1.35"/>
<circle cx="69.6" cy="340.8" r="2.5" fill="none" stroke="#111" stroke-width="1.35"/>
<circle cx="79.4" cy="329.6" r="2.5" fill="none" stroke="#111" stroke-width="1.35"/>
<circle cx="79.4" cy="336.8" r="2.5" fill="none" stroke="#111" stroke-width="1.35"/>
<circle cx="79.4" cy="344.3" r="2.5" fill="none" stroke="#111" stroke-width="1.35"/>
<circle cx="106.7" cy="267.8" r="2.5" fill="none" stroke="#ee1c24" stroke-width="1.35"/>
<circle cx="106.7" cy="278.2" r="2.5" fill="none" stroke="#ee1c24" stroke-width="1.35"/>
<circle cx="111.6" cy="292.8" r="2.5" fill="none" stroke="#ee1c24" stroke-width="1.35"/>
<circle cx="101.7" cy="296.6" r="2.5" fill="none" stroke="#ee1c24" stroke-width="1.35"/>
<circle cx="111.4" cy="303.1" r="2.5" fill="none" stroke="#ee1c24" stroke-width="1.35"/>
<circle cx="101.7" cy="304.6" r="2.5" fill="none" stroke="#ee1c24" stroke-width="1.35"/>
<circle cx="111.6" cy="310.5" r="2.5" fill="none" stroke="#ee1c24" stroke-width="1.35"/>
<circle cx="101.7" cy="312.5" r="2.5" fill="none" stroke="#ee1c24" stroke-width="1.35"/>
<circle cx="143.6" cy="310.6" r="2.5" fill="none" stroke="#1a1aee" stroke-width="1.35"/>
<circle cx="138.6" cy="316.2" r="2.5" fill="none" stroke="#1a1aee" stroke-width="1.35"/>
<circle cx="148.5" cy="318.7" r="2.5" fill="none" stroke="#1a1aee" stroke-width="1.35"/>
<circle cx="138.6" cy="322.2" r="2.5" fill="none" stroke="#1a1aee" stroke-width="1.35"/>
<circle cx="148.5" cy="325.2" r="2.5" fill="none" stroke="#1a1aee" stroke-width="1.35"/>
<circle cx="138.6" cy="328.2" r="2.5" fill="none" stroke="#1a1aee" stroke-width="1.35"/>
<circle cx="148.5" cy="332.1" r="2.5" fill="none" stroke="#1a1aee" stroke-width="1.35"/>
<circle cx="138.6" cy="336.1" r="2.5" fill="none" stroke="#1a1aee" stroke-width="1.35"/>
<line x1="96.40" y1="255.30" x2="96.40" y2="260.50" stroke="#333333" stroke-width="1.25" />
<line x1="94.15" y1="256.60" x2="98.65" y2="259.20" stroke="#333333" stroke-width="1.25" />
<line x1="98.65" y1="256.60" x2="94.15" y2="259.20" stroke="#333333" stroke-width="1.25" />
<line x1="103.20" y1="255.30" x2="103.20" y2="260.50" stroke="#333333" stroke-width="1.25" />
<line x1="100.95" y1="256.60" x2="105.45" y2="259.20" stroke="#333333" stroke-width="1.25" />
<line x1="105.45" y1="256.60" x2="100.95" y2="259.20" stroke="#333333" stroke-width="1.25" />
<line x1="110.00" y1="255.30" x2="110.00" y2="260.50" stroke="#333333" stroke-width="1.25" />
<line x1="107.75" y1="256.60" x2="112.25" y2="259.20" stroke="#333333" stroke-width="1.25" />
<line x1="112.25" y1="256.60" x2="107.75" y2="259.20" stroke="#333333" stroke-width="1.25" />
<line x1="116.80" y1="255.30" x2="116.80" y2="260.50" stroke="#333333" stroke-width="1.25" />
<line x1="114.55" y1="256.60" x2="119.05" y2="259.20" stroke="#333333" stroke-width="1.25" />
<line x1="119.05" y1="256.60" x2="114.55" y2="259.20" stroke="#333333" stroke-width="1.25" />
<text transform="translate(143.80,302.78) scale(0.9,1.05)" font-family='"Liberation Sans", sans-serif' font-size="13" fill="#333" stroke="#333" stroke-width="0.45" text-anchor="middle">###</text>
<text transform="translate(69.90,400.50) scale(1,1.03)" font-family='"Liberation Serif", serif' font-size="14.1" font-weight="bold" fill="#111" stroke="#111" stroke-width="0.3" text-anchor="middle" >Chow</text>
<text transform="translate(106.60,400.50) scale(1,1.03)" font-family='"Liberation Serif", serif' font-size="14.1" font-weight="bold" fill="#111" stroke="#111" stroke-width="0.3" text-anchor="middle" >HFD</text>
<text transform="translate(143.50,400.50) scale(1,1.03)" font-family='"Liberation Serif", serif' font-size="14.1" font-weight="bold" fill="#111" stroke="#111" stroke-width="0.3" text-anchor="middle" >MCE</text>
<text transform="translate(18.00,314.00) rotate(-90) scale(1,1.02)" x="0" y="0" font-family='"Liberation Serif", serif' font-size="13.7" font-weight="bold" fill="#111" stroke="#111" stroke-width="0.3" text-anchor="middle">Weight gain (g/13 weeks)</text>
<line x1="223.60" y1="250.80" x2="223.60" y2="382.05" stroke="#1a1a1a" stroke-width="1.4" />
<line x1="218.80" y1="381.30" x2="346.80" y2="381.30" stroke="#1a1a1a" stroke-width="1.4" />
<line x1="218.60" y1="381.30" x2="223.60" y2="381.30" stroke="#1a1a1a" stroke-width="1.4" />
<text transform="translate(216.90,386.30) scale(1,1.03)" font-family='"Liberation Serif", serif' font-size="13.6" font-weight="bold" fill="#111" stroke="#111" stroke-width="0.3" text-anchor="end" >0</text>
<line x1="218.60" y1="348.70" x2="223.60" y2="348.70" stroke="#1a1a1a" stroke-width="1.4" />
<text transform="translate(216.90,353.70) scale(1,1.03)" font-family='"Liberation Serif", serif' font-size="13.6" font-weight="bold" fill="#111" stroke="#111" stroke-width="0.3" text-anchor="end" >1</text>
<line x1="218.60" y1="316.10" x2="223.60" y2="316.10" stroke="#1a1a1a" stroke-width="1.4" />
<text transform="translate(216.90,321.10) scale(1,1.03)" font-family='"Liberation Serif", serif' font-size="13.6" font-weight="bold" fill="#111" stroke="#111" stroke-width="0.3" text-anchor="end" >2</text>
<line x1="218.60" y1="283.50" x2="223.60" y2="283.50" stroke="#1a1a1a" stroke-width="1.4" />
<text transform="translate(216.90,288.50) scale(1,1.03)" font-family='"Liberation Serif", serif' font-size="13.6" font-weight="bold" fill="#111" stroke="#111" stroke-width="0.3" text-anchor="end" >3</text>
<line x1="218.60" y1="250.90" x2="223.60" y2="250.90" stroke="#1a1a1a" stroke-width="1.4" />
<text transform="translate(216.90,255.90) scale(1,1.03)" font-family='"Liberation Serif", serif' font-size="13.6" font-weight="bold" fill="#111" stroke="#111" stroke-width="0.3" text-anchor="end" >4</text>
<line x1="248.30" y1="381.30" x2="248.30" y2="386.70" stroke="#1a1a1a" stroke-width="1.4" />
<line x1="285.00" y1="381.30" x2="285.00" y2="386.70" stroke="#1a1a1a" stroke-width="1.4" />
<line x1="321.90" y1="381.30" x2="321.90" y2="386.70" stroke="#1a1a1a" stroke-width="1.4" />
<rect x="236.60" y="264.80" width="23.70" height="116.50" fill="#fff" stroke="#111" stroke-width="1.4"/>
<rect x="273.50" y="282.70" width="23.70" height="98.60" fill="#fff" stroke="#ee1c24" stroke-width="1.4"/>
<rect x="310.40" y="281.70" width="23.70" height="99.60" fill="#fff" stroke="#1a1aee" stroke-width="1.4"/>
<line x1="248.40" y1="263.60" x2="248.40" y2="264.80" stroke="#111" stroke-width="1.4" />
<line x1="242.40" y1="263.60" x2="254.40" y2="263.60" stroke="#111" stroke-width="1.4" />
<line x1="242.40" y1="264.80" x2="254.40" y2="264.80" stroke="#111" stroke-width="1.4" />
<line x1="285.30" y1="279.90" x2="285.30" y2="282.70" stroke="#ee1c24" stroke-width="1.4" />
<line x1="279.10" y1="279.90" x2="291.50" y2="279.90" stroke="#ee1c24" stroke-width="1.4" />
<line x1="279.10" y1="282.70" x2="291.50" y2="282.70" stroke="#ee1c24" stroke-width="1.4" />
<line x1="322.00" y1="279.80" x2="322.00" y2="281.70" stroke="#1a1aee" stroke-width="1.4" />
<line x1="316.50" y1="279.80" x2="327.50" y2="279.80" stroke="#1a1aee" stroke-width="1.4" />
<line x1="316.50" y1="281.70" x2="327.50" y2="281.70" stroke="#1a1aee" stroke-width="1.4" />
<line x1="275.10" y1="270.70" x2="275.10" y2="275.90" stroke="#333333" stroke-width="1.25" />
<line x1="272.85" y1="272.00" x2="277.35" y2="274.60" stroke="#333333" stroke-width="1.25" />
<line x1="277.35" y1="272.00" x2="272.85" y2="274.60" stroke="#333333" stroke-width="1.25" />
<line x1="281.90" y1="270.70" x2="281.90" y2="275.90" stroke="#333333" stroke-width="1.25" />
<line x1="279.65" y1="272.00" x2="284.15" y2="274.60" stroke="#333333" stroke-width="1.25" />
<line x1="284.15" y1="272.00" x2="279.65" y2="274.60" stroke="#333333" stroke-width="1.25" />
<line x1="288.70" y1="270.70" x2="288.70" y2="275.90" stroke="#333333" stroke-width="1.25" />
<line x1="286.45" y1="272.00" x2="290.95" y2="274.60" stroke="#333333" stroke-width="1.25" />
<line x1="290.95" y1="272.00" x2="286.45" y2="274.60" stroke="#333333" stroke-width="1.25" />
<line x1="295.50" y1="270.70" x2="295.50" y2="275.90" stroke="#333333" stroke-width="1.25" />
<line x1="293.25" y1="272.00" x2="297.75" y2="274.60" stroke="#333333" stroke-width="1.25" />
<line x1="297.75" y1="272.00" x2="293.25" y2="274.60" stroke="#333333" stroke-width="1.25" />
<text transform="translate(248.40,400.00) scale(1,1.03)" font-family='"Liberation Serif", serif' font-size="14.1" font-weight="bold" fill="#111" stroke="#111" stroke-width="0.3" text-anchor="middle" >Chow</text>
<text transform="translate(285.00,400.00) scale(1,1.03)" font-family='"Liberation Serif", serif' font-size="14.1" font-weight="bold" fill="#111" stroke="#111" stroke-width="0.3" text-anchor="middle" >HFD</text>
<text transform="translate(321.90,400.00) scale(1,1.03)" font-family='"Liberation Serif", serif' font-size="14.1" font-weight="bold" fill="#111" stroke="#111" stroke-width="0.3" text-anchor="middle" >MCE</text>
<text transform="translate(200.80,308.60) rotate(-90) scale(1,1.02)" x="0" y="0" font-family='"Liberation Serif", serif' font-size="13.7" font-weight="bold" fill="#111" stroke="#111" stroke-width="0.3" text-anchor="middle">Food intake (g/day)</text>
<line x1="414.60" y1="250.60" x2="414.60" y2="381.85" stroke="#1a1a1a" stroke-width="1.4" />
<line x1="410.50" y1="381.10" x2="537.90" y2="381.10" stroke="#1a1a1a" stroke-width="1.4" />
<line x1="409.60" y1="381.10" x2="414.60" y2="381.10" stroke="#1a1a1a" stroke-width="1.4" />
<text transform="translate(407.50,386.10) scale(1,1.03)" font-family='"Liberation Serif", serif' font-size="13.6" font-weight="bold" fill="#111" stroke="#111" stroke-width="0.3" text-anchor="end" >0.00</text>
<line x1="409.60" y1="355.00" x2="414.60" y2="355.00" stroke="#1a1a1a" stroke-width="1.4" />
<text transform="translate(407.50,360.00) scale(1,1.03)" font-family='"Liberation Serif", serif' font-size="13.6" font-weight="bold" fill="#111" stroke="#111" stroke-width="0.3" text-anchor="end" >0.02</text>
<line x1="409.60" y1="328.90" x2="414.60" y2="328.90" stroke="#1a1a1a" stroke-width="1.4" />
<text transform="translate(407.50,333.90) scale(1,1.03)" font-family='"Liberation Serif", serif' font-size="13.6" font-weight="bold" fill="#111" stroke="#111" stroke-width="0.3" text-anchor="end" >0.04</text>
<line x1="409.60" y1="302.80" x2="414.60" y2="302.80" stroke="#1a1a1a" stroke-width="1.4" />
<text transform="translate(407.50,307.80) scale(1,1.03)" font-family='"Liberation Serif", serif' font-size="13.6" font-weight="bold" fill="#111" stroke="#111" stroke-width="0.3" text-anchor="end" >0.06</text>
<line x1="409.60" y1="276.70" x2="414.60" y2="276.70" stroke="#1a1a1a" stroke-width="1.4" />
<text transform="translate(407.50,281.70) scale(1,1.03)" font-family='"Liberation Serif", serif' font-size="13.6" font-weight="bold" fill="#111" stroke="#111" stroke-width="0.3" text-anchor="end" >0.08</text>
<line x1="409.60" y1="250.60" x2="414.60" y2="250.60" stroke="#1a1a1a" stroke-width="1.4" />
<text transform="translate(407.50,255.60) scale(1,1.03)" font-family='"Liberation Serif", serif' font-size="13.6" font-weight="bold" fill="#111" stroke="#111" stroke-width="0.3" text-anchor="end" >0.10</text>
<line x1="439.40" y1="381.10" x2="439.40" y2="386.50" stroke="#1a1a1a" stroke-width="1.4" />
<line x1="476.30" y1="381.10" x2="476.30" y2="386.50" stroke="#1a1a1a" stroke-width="1.4" />
<line x1="513.90" y1="381.10" x2="513.90" y2="386.50" stroke="#1a1a1a" stroke-width="1.4" />
<rect x="427.80" y="347.80" width="23.70" height="33.30" fill="#fff" stroke="#111" stroke-width="1.4"/>
<rect x="464.80" y="304.60" width="23.50" height="76.50" fill="#fff" stroke="#111" stroke-width="1.4"/>
<rect x="501.70" y="330.70" width="23.60" height="50.40" fill="#fff" stroke="#111" stroke-width="1.4"/>
<line x1="439.60" y1="345.30" x2="439.60" y2="350.60" stroke="#111" stroke-width="1.4" />
<line x1="433.10" y1="345.30" x2="446.10" y2="345.30" stroke="#111" stroke-width="1.4" />
<line x1="433.10" y1="350.60" x2="446.10" y2="350.60" stroke="#111" stroke-width="1.4" />
<line x1="476.40" y1="298.60" x2="476.40" y2="309.20" stroke="#ee1c24" stroke-width="1.4" />
<line x1="470.00" y1="298.60" x2="482.80" y2="298.60" stroke="#ee1c24" stroke-width="1.4" />
<line x1="470.00" y1="309.20" x2="482.80" y2="309.20" stroke="#ee1c24" stroke-width="1.4" />
<line x1="513.60" y1="327.90" x2="513.60" y2="332.40" stroke="#222" stroke-width="1.4" />
<line x1="507.80" y1="327.90" x2="519.40" y2="327.90" stroke="#222" stroke-width="1.4" />
<line x1="507.80" y1="332.40" x2="519.40" y2="332.40" stroke="#222" stroke-width="1.4" />
<circle cx="439.5" cy="339.1" r="2.5" fill="none" stroke="#111" stroke-width="1.35"/>
<circle cx="429.8" cy="343.4" r="2.5" fill="none" stroke="#111" stroke-width="1.35"/>
<circle cx="449.5" cy="341.9" r="2.5" fill="none" stroke="#111" stroke-width="1.35"/>
<circle cx="429.8" cy="348.8" r="2.5" fill="none" stroke="#111" stroke-width="1.35"/>
<circle cx="449.5" cy="347.3" r="2.5" fill="none" stroke="#111" stroke-width="1.35"/>
<circle cx="439.5" cy="350.2" r="2.5" fill="none" stroke="#111" stroke-width="1.35"/>
<circle cx="429.8" cy="353.7" r="2.5" fill="none" stroke="#111" stroke-width="1.35"/>
<circle cx="449.5" cy="352.7" r="2.5" fill="none" stroke="#111" stroke-width="1.35"/>
<circle cx="476.2" cy="278.1" r="2.5" fill="none" stroke="#ee1c24" stroke-width="1.35"/>
<circle cx="476.2" cy="287.3" r="2.5" fill="none" stroke="#ee1c24" stroke-width="1.35"/>
<circle cx="481.5" cy="302.0" r="2.5" fill="none" stroke="#ee1c24" stroke-width="1.35"/>
<circle cx="471.2" cy="304.2" r="2.5" fill="none" stroke="#ee1c24" stroke-width="1.35"/>
<circle cx="481.5" cy="311.0" r="2.5" fill="none" stroke="#ee1c24" stroke-width="1.35"/>
<circle cx="471.2" cy="311.9" r="2.5" fill="none" stroke="#ee1c24" stroke-width="1.35"/>
<circle cx="481.3" cy="317.4" r="2.5" fill="none" stroke="#ee1c24" stroke-width="1.35"/>
<circle cx="471.2" cy="318.5" r="2.5" fill="none" stroke="#ee1c24" stroke-width="1.35"/>
<circle cx="513.4" cy="318.7" r="2.5" fill="none" stroke="#1a1aee" stroke-width="1.35"/>
<circle cx="508.5" cy="323.8" r="2.5" fill="none" stroke="#1a1aee" stroke-width="1.35"/>
<circle cx="518.4" cy="326.1" r="2.5" fill="none" stroke="#1a1aee" stroke-width="1.35"/>
<circle cx="508.5" cy="328.6" r="2.5" fill="none" stroke="#1a1aee" stroke-width="1.35"/>
<circle cx="518.4" cy="331.6" r="2.5" fill="none" stroke="#1a1aee" stroke-width="1.35"/>
<circle cx="508.5" cy="334.5" r="2.5" fill="none" stroke="#1a1aee" stroke-width="1.35"/>
<circle cx="518.4" cy="336.7" r="2.5" fill="none" stroke="#1a1aee" stroke-width="1.35"/>
<circle cx="508.5" cy="340.8" r="2.5" fill="none" stroke="#1a1aee" stroke-width="1.35"/>
<line x1="466.10" y1="267.00" x2="466.10" y2="272.20" stroke="#333333" stroke-width="1.25" />
<line x1="463.85" y1="268.30" x2="468.35" y2="270.90" stroke="#333333" stroke-width="1.25" />
<line x1="468.35" y1="268.30" x2="463.85" y2="270.90" stroke="#333333" stroke-width="1.25" />
<line x1="472.90" y1="267.00" x2="472.90" y2="272.20" stroke="#333333" stroke-width="1.25" />
<line x1="470.65" y1="268.30" x2="475.15" y2="270.90" stroke="#333333" stroke-width="1.25" />
<line x1="475.15" y1="268.30" x2="470.65" y2="270.90" stroke="#333333" stroke-width="1.25" />
<line x1="479.70" y1="267.00" x2="479.70" y2="272.20" stroke="#333333" stroke-width="1.25" />
<line x1="477.45" y1="268.30" x2="481.95" y2="270.90" stroke="#333333" stroke-width="1.25" />
<line x1="481.95" y1="268.30" x2="477.45" y2="270.90" stroke="#333333" stroke-width="1.25" />
<line x1="486.50" y1="267.00" x2="486.50" y2="272.20" stroke="#333333" stroke-width="1.25" />
<line x1="484.25" y1="268.30" x2="488.75" y2="270.90" stroke="#333333" stroke-width="1.25" />
<line x1="488.75" y1="268.30" x2="484.25" y2="270.90" stroke="#333333" stroke-width="1.25" />
<text transform="translate(513.40,314.38) scale(0.9,1.05)" font-family='"Liberation Sans", sans-serif' font-size="13" fill="#333" stroke="#333" stroke-width="0.45" text-anchor="middle">###</text>
<text transform="translate(440.00,399.90) scale(1,1.03)" font-family='"Liberation Serif", serif' font-size="14.1" font-weight="bold" fill="#111" stroke="#111" stroke-width="0.3" text-anchor="middle" >Chow</text>
<text transform="translate(476.70,399.90) scale(1,1.03)" font-family='"Liberation Serif", serif' font-size="14.1" font-weight="bold" fill="#111" stroke="#111" stroke-width="0.3" text-anchor="middle" >HFD</text>
<text transform="translate(513.80,399.90) scale(1,1.03)" font-family='"Liberation Serif", serif' font-size="14.1" font-weight="bold" fill="#111" stroke="#111" stroke-width="0.3" text-anchor="middle" >MCE</text>
<text transform="translate(375.90,302.20) rotate(-90) scale(1,1.02)" x="0" y="0" font-family='"Liberation Serif", serif' font-size="13.7" font-weight="bold" fill="#111" stroke="#111" stroke-width="0.3" text-anchor="middle">FER</text>
</svg></body></html>
